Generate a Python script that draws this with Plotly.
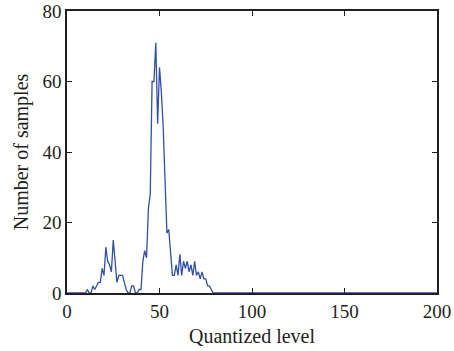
import plotly.graph_objects as go

levels = list(range(0, 201))

# Non-zero counts by quantized level; all other levels are 0
counts_map = {
    11: 1, 14: 2, 15: 1, 16: 2, 17: 3, 18: 3, 19: 7, 20: 5, 21: 13, 22: 9,
    23: 8, 24: 6, 25: 15, 26: 9, 27: 3, 28: 5, 29: 5, 30: 5, 31: 3, 32: 1,
    35: 2, 36: 2, 39: 1, 40: 1, 41: 9, 42: 12, 43: 10, 44: 24, 45: 28,
    46: 60, 47: 60, 48: 71, 49: 48, 50: 64, 51: 57, 52: 47, 53: 32, 54: 17,
    55: 18, 56: 10, 57: 5, 58: 5, 59: 8, 60: 5, 61: 11, 62: 5, 63: 9, 64: 7,
    65: 9, 66: 6, 67: 8, 68: 5, 69: 9, 70: 5, 71: 6, 72: 4, 73: 6, 74: 4,
    75: 4, 76: 2, 77: 2, 78: 1,
}
counts = [counts_map.get(v, 0) for v in levels]

x_ticks = [0, 50, 100, 150, 200]
y_ticks = [0, 20, 40, 60, 80]

fig = go.Figure()
fig.add_trace(go.Scatter(
    x=levels, y=counts, mode="lines",
    line=dict(color="#2f4fae", width=1.3),
    showlegend=False,
))

tick_font = dict(family="Liberation Serif, Times New Roman, serif", size=19, color="#231f20")
title_font = dict(family="Liberation Serif, Times New Roman, serif", size=20, color="#231f20")
axis_common = dict(
    showline=True, linecolor="#231f20", linewidth=1.5, mirror="ticks",
    ticks="inside", ticklen=5, tickwidth=1, tickcolor="#231f20",
    showgrid=False, zeroline=False, tickfont=tick_font, automargin=False,
)

fig.update_layout(
    width=454, height=351,
    margin=dict(l=67, r=17, t=11, b=58),
    paper_bgcolor="white", plot_bgcolor="white",
    font=tick_font,
    xaxis=dict(range=[0, 200], tickvals=x_ticks,
               title=dict(text="Quantized level", font=title_font, standoff=8),
               **axis_common),
    yaxis=dict(range=[0, 80], tickvals=y_ticks,
               title=dict(text="Number of samples", font=title_font, standoff=8),
               **axis_common),
)

fig.write_html("out.html")
